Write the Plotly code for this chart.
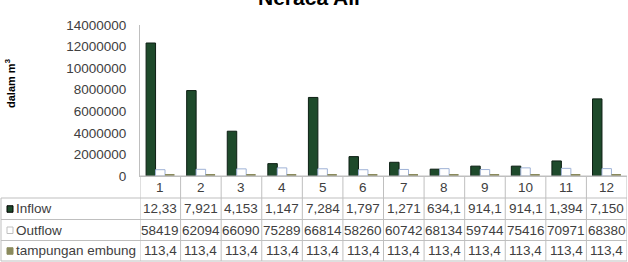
import plotly.graph_objects as go

categories = [str(i) for i in range(1, 13)]
inflow = [12330000, 7921000, 4153000, 1147000, 7284000, 1797000, 1271000, 634100, 914100, 914100, 1394000, 7150000]
outflow = [584190, 620940, 660900, 752890, 668140, 582600, 607420, 681340, 597440, 754160, 709710, 683800]
tampungan = [113400] * 12
inflow_labels = ["12,33", "7,921", "4,153", "1,147", "7,284", "1,797", "1,271", "634,1", "914,1", "914,1", "1,394", "7,150"]
outflow_labels = ["58419", "62094", "66090", "75289", "66814", "58260", "60742", "68134", "59744", "75416", "70971", "68380"]
tampungan_labels = ["113,4"] * 12
series_names = ["Inflow", "Outflow", "tampungan embung"]
y_ticks = [0, 2000000, 4000000, 6000000, 8000000, 10000000, 12000000, 14000000]

W, H = 628, 262
def px(xp): return xp / W
def py(yp): return (H - yp) / H

C_IN = "#1e4a2b"
C_OUT = "#ffffff"
C_TAMP = "#8a8a5c"
GRID = "#bfbfbf"
TXT = "#404040"
FONT = "Liberation Sans"
FS = 13.5

fig = go.Figure()
fig.add_bar(x=categories, y=inflow, name=series_names[0], marker=dict(color=C_IN, line=dict(color="#0d1f14", width=1)))
fig.add_bar(x=categories, y=outflow, name=series_names[1], marker=dict(color=C_OUT, line=dict(color="#9fb2d6", width=1)))
fig.add_bar(x=categories, y=tampungan, name=series_names[2], marker=dict(color=C_TAMP, line=dict(color=C_TAMP, width=0)))

x_left, x_right = 140, 627
y_top, y_axis = 25, 176
row_lines = [176, 198, 219.5, 240.5, 261]

fig.update_layout(
    width=W, height=H, margin=dict(l=0, r=0, t=0, b=0, pad=0, autoexpand=False),
    paper_bgcolor="white", plot_bgcolor="white",
    barmode="group", bargap=0.3, bargroupgap=0,
    showlegend=False,
    font=dict(family=FONT, color=TXT, size=12),
    xaxis=dict(domain=[px(x_left), px(x_right)], type="category", range=[-0.5, 11.5], automargin=False,
               showticklabels=False, showline=True, linecolor=GRID, linewidth=1, ticks="", anchor="y"),
    yaxis=dict(domain=[py(y_axis), py(y_top)], range=[0, 14000000], tickvals=y_ticks, automargin=False,
               ticktext=[str(v) for v in y_ticks], showline=True, linecolor=GRID, linewidth=1,
               showgrid=False, zeroline=False, ticks="", tickfont=dict(size=FS, color=TXT, family=FONT),
               ticklabelstandoff=10),
)

shapes = []
for i in range(len(categories) + 1):
    shapes.append(dict(type="line", xref="x", yref="paper", x0=i - 0.5, x1=i - 0.5,
                       y0=py(row_lines[-1]), y1=py(row_lines[0]), line=dict(color=GRID, width=1)))
for k, yl in enumerate(row_lines):
    xs = x_left if k == 0 else 1
    shapes.append(dict(type="line", xref="paper", yref="paper", x0=px(xs), x1=px(x_right),
                       y0=py(yl), y1=py(yl), line=dict(color=GRID, width=1)))
shapes.append(dict(type="line", xref="paper", yref="paper", x0=px(1), x1=px(1),
                   y0=py(row_lines[-1]), y1=py(row_lines[1]), line=dict(color=GRID, width=1)))

annotations = []
row_centers = [(row_lines[k] + row_lines[k + 1]) / 2 for k in range(4)]
for i, c in enumerate(categories):
    annotations.append(dict(x=i, y=py(row_centers[0]), xref="x", yref="paper", text=c,
                            xanchor="center", yanchor="middle",
                            showarrow=False, font=dict(size=FS, color=TXT)))
    for r, labels in enumerate([inflow_labels, outflow_labels, tampungan_labels]):
        annotations.append(dict(x=i, y=py(row_centers[r + 1]), xref="x", yref="paper", text=labels[i],
                                xanchor="center", yanchor="middle",
                                showarrow=False, font=dict(size=FS, color=TXT)))

swatch = [(C_IN, "#000000"), (C_OUT, "#bfbfbf"), (C_TAMP, C_TAMP)]
for r, name in enumerate(series_names):
    yc = row_centers[r + 1]
    shapes.append(dict(type="rect", xref="paper", yref="paper", x0=px(7), x1=px(13),
                       y0=py(yc + 3.5), y1=py(yc - 3), fillcolor=swatch[r][0], line=dict(color=swatch[r][1], width=1)))
    annotations.append(dict(x=px(14), y=py(yc), xref="paper", yref="paper", text=name,
                            xanchor="left", yanchor="middle",
                            showarrow=False, font=dict(size=FS, color=TXT)))

annotations.append(dict(x=px(310), y=py(11), xref="paper", yref="paper", text="<b>Neraca Air</b>",
                        xanchor="center", yanchor="bottom", showarrow=False, font=dict(size=21, color="#000000")))
annotations.append(dict(x=px(10), y=py(84), xref="paper", yref="paper", text="<b>dalam m<sup>3</sup></b>",
                        xanchor="center", yanchor="middle",
                        textangle=-90, showarrow=False, font=dict(size=11, color="#000000")))

fig.update_layout(shapes=shapes, annotations=annotations)
fig.write_html("out.html")
